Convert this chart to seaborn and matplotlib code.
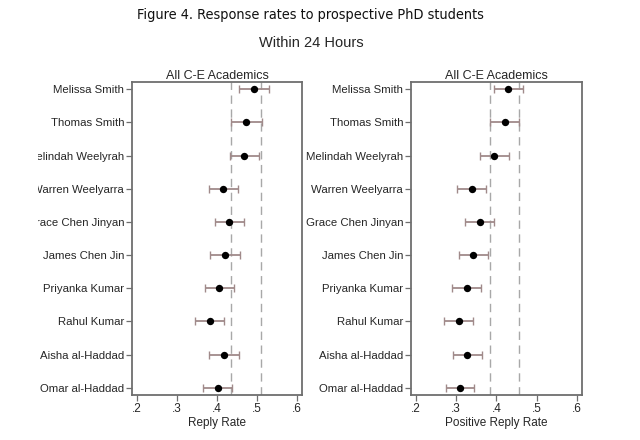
import numpy as np
import pandas as pd
import matplotlib
matplotlib.use("Agg")
import matplotlib.pyplot as plt
from matplotlib.patches import Rectangle
import seaborn as sns

names = ["Melissa Smith", "Thomas Smith", "Melindah Weelyrah", "Warren Weelyarra",
         "Grace Chen Jinyan", "James Chen Jin", "Priyanka Kumar", "Rahul Kumar",
         "Aisha al-Haddad", "Omar al-Haddad"]

# reply rate within 24 hours
reply = [0.492, 0.472, 0.468, 0.415, 0.431, 0.420, 0.406, 0.382, 0.418, 0.402]
reply_lo = [0.455, 0.436, 0.432, 0.379, 0.394, 0.383, 0.369, 0.345, 0.381, 0.366]
reply_hi = [0.529, 0.512, 0.506, 0.452, 0.468, 0.457, 0.443, 0.418, 0.454, 0.438]
reply_ref = [0.436, 0.511]

# positive reply rate within 24 hours
pos = [0.430, 0.421, 0.393, 0.339, 0.359, 0.343, 0.326, 0.306, 0.328, 0.310]
pos_lo = [0.393, 0.385, 0.359, 0.303, 0.322, 0.308, 0.290, 0.270, 0.292, 0.274]
pos_hi = [0.466, 0.457, 0.431, 0.375, 0.394, 0.379, 0.362, 0.342, 0.364, 0.345]
pos_ref = [0.385, 0.457]

xticks = [0.2, 0.3, 0.4, 0.5, 0.6]
xticklabels = [".2", ".3", ".4", ".5", ".6"]

sns.set_style("white")
plt.rcParams["font.family"] = ["Liberation Sans", "DejaVu Sans"]

fig = plt.figure(figsize=(6.4, 4.4), dpi=100)
ax1 = fig.add_axes([0.206, 0.1023, 0.266, 0.7113])
ax2 = fig.add_axes([0.642, 0.1023, 0.267, 0.7113])

spine_col = "#6e6e6e"
err_col = "#a08a8a"

def panel(ax, val, lo, hi, ref, xlabel):
    df = pd.DataFrame({"name": names, "val": val, "lo": lo, "hi": hi})
    df["pos"] = np.arange(len(names))
    for r in ref:
        ax.axvline(r, color="#a8a8a8", lw=1.0, ls=(0, (6, 4)), zorder=1)
    ax.errorbar(df["val"], df["pos"],
                xerr=[df["val"] - df["lo"], df["hi"] - df["val"]],
                fmt="none", ecolor=err_col, elinewidth=1.3, capsize=3,
                capthick=1.0, zorder=2)
    sns.scatterplot(data=df, x="val", y="pos", ax=ax, color="black",
                    s=28, edgecolor="black", linewidth=0, zorder=3)
    ax.set_xlim(0.1875, 0.6125)
    ax.set_ylim(len(names) - 1 + 0.22, -0.22)
    ax.set_yticks(df["pos"])
    ax.set_yticklabels(names, fontsize=8.2)
    ax.set_xticks(xticks)
    ax.set_xticklabels(xticklabels, fontsize=8.5)
    ax.set_xlabel(xlabel, fontsize=8.5, labelpad=1)
    ax.set_ylabel("")
    ax.set_title("All C-E Academics", fontsize=9, pad=2)
    ax.tick_params(axis="both", length=4, width=0.9, color=spine_col, pad=2,
                   left=True, bottom=True)
    ax.tick_params(axis="y", pad=1.5)
    for s in ax.spines.values():
        s.set_color(spine_col)
        s.set_linewidth(1.3)

panel(ax1, reply, reply_lo, reply_hi, reply_ref, "Reply Rate")
panel(ax2, pos, pos_lo, pos_hi, pos_ref, "Positive Reply Rate")

# the source image is cropped on its left edge
fig.patches.append(Rectangle((0, 0), 38 / 640, 1, transform=fig.transFigure,
                             facecolor="white", edgecolor="none", zorder=10))

fig.text(0.4855, 0.966, "Figure 4. Response rates to prospective PhD students",
         ha="center", va="center", fontsize=10.4, color="#111111",
         family=["DejaVu Sans"], fontstretch="condensed")
fig.text(0.487, 0.902, "Within 24 Hours", ha="center", va="center", fontsize=10.5)

fig.savefig("out.png", dpi=100)
